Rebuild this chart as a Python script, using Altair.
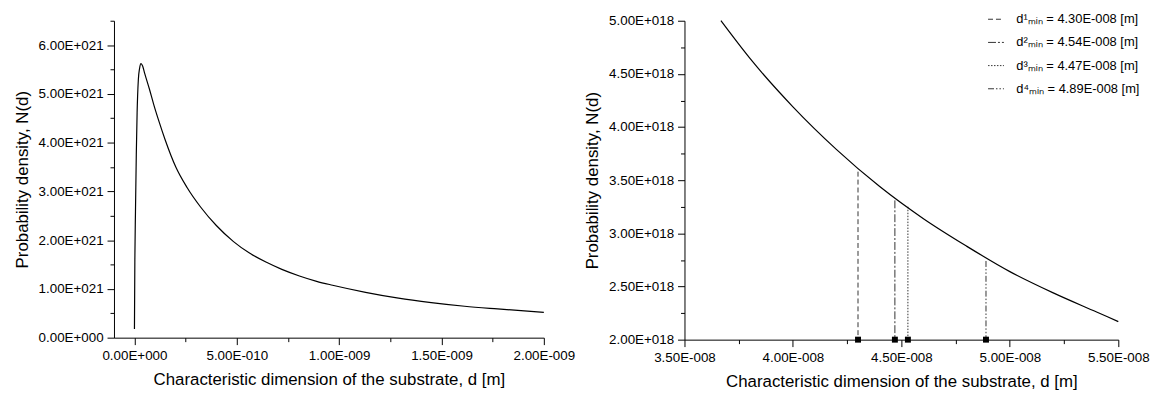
import altair as alt
import pandas as pd

FONT = "Liberation Sans"

# ---- left panel data (x in 1e-9 m, y in 1e21) ----
left_x = [0.000, 0.002, 0.005, 0.009, 0.013, 0.019, 0.025, 0.032, 0.040, 0.050,
          0.073, 0.095, 0.121, 0.149, 0.202, 0.257, 0.323, 0.400, 0.484, 0.560,
          0.645, 0.720, 0.806, 0.890, 0.968, 1.129, 1.290, 1.450, 1.613, 1.774, 2.000]
left_y = [0.18, 1.60, 2.58, 3.75, 4.61, 5.29, 5.52, 5.62, 5.57, 5.42,
          5.10, 4.77, 4.42, 4.07, 3.50, 3.08, 2.68, 2.30, 1.97, 1.74,
          1.545, 1.40, 1.265, 1.155, 1.075, 0.93, 0.81, 0.72, 0.645, 0.59, 0.52]

# ---- right panel data (x in 1e-8 m, y in 1e18) ----
right_x = [3.668, 3.80, 4.00, 4.20, 4.40, 4.60, 4.80, 5.00, 5.20, 5.40, 5.50]
right_y = [5.00, 4.65, 4.19, 3.79, 3.44, 3.14, 2.88, 2.64, 2.44, 2.26, 2.17]

dmin_labels = ["d¹ₘᵢₙ = 4.30E-008 [m]", "d²ₘᵢₙ = 4.54E-008 [m]",
               "d³ₘᵢₙ = 4.47E-008 [m]", "d⁴ₘᵢₙ = 4.89E-008 [m]"]
dmin_x = [4.30, 4.47, 4.53, 4.89]          # 1e-8 m, as drawn
dmin_top = [3.58, 3.31, 3.25, 2.74]        # 1e18
dmin_base = [2.0, 2.0, 2.0, 2.0]           # 1e18
dmin_dash = [[5, 3], [8, 2, 2, 2], [1.5, 1.5], [6, 2, 1.5, 2, 1.5, 2]]

# ---- tick values ----
left_xticks = [0, 2.5e-10, 5e-10, 7.5e-10, 1e-9, 1.25e-9, 1.5e-9, 1.75e-9, 2e-9]
left_yticks = [0, 0.5e21, 1e21, 1.5e21, 2e21, 2.5e21, 3e21, 3.5e21, 4e21, 4.5e21,
               5e21, 5.5e21, 6e21, 6.5e21]
right_xticks = [3.5e-8, 3.75e-8, 4e-8, 4.25e-8, 4.5e-8, 4.75e-8, 5e-8, 5.25e-8, 5.5e-8]
right_yticks = [2e18, 2.25e18, 2.5e18, 2.75e18, 3e18, 3.25e18, 3.5e18, 3.75e18,
                4e18, 4.25e18, 4.5e18, 4.75e18, 5e18]

df_left = pd.DataFrame({"x": [v * 1e-9 for v in left_x], "y": [v * 1e21 for v in left_y]})
df_right = pd.DataFrame({"x": [v * 1e-8 for v in right_x], "y": [v * 1e18 for v in right_y]})
df_rules = pd.DataFrame({
    "x": [v * 1e-8 for v in dmin_x],
    "y": [v * 1e18 for v in dmin_top],
    "y2": [v * 1e18 for v in dmin_base],
    "label": dmin_labels,
})
df_sq = pd.DataFrame({"x": [v * 1e-8 for v in dmin_x], "y": [v * 1e18 for v in dmin_base]})


def minor_test(step):
    return f"abs(datum.value/{step} - round(datum.value/{step})) > 1e-6"


def sci_label(step):
    v = "datum.value"
    e = f"floor(log(abs({v}))/LN10 + 1e-9)"
    return (f"{minor_test(step)} ? '' : "
            f"(abs({v}) < 1e-40 ? '0.00E+000' : "
            f"format({v}/pow(10, {e}), '.2f') + 'E' + ({e} < 0 ? '-' : '+') + "
            f"(abs({e}) < 10 ? '00' : '0') + abs({e}))")


def make_axis(title, values, step, title_pad):
    return alt.Axis(
        title=title, values=values, labelExpr=sci_label(step),
        tickSize={"condition": {"test": minor_test(step), "value": 4}, "value": 7},
        labelPadding=4, titlePadding=title_pad, labelFontSize=13.5, titleFontSize=17,
        labelFont=FONT, titleFont=FONT, titleFontWeight="normal",
        grid=False, domainColor="black", tickColor="black", labelColor="black",
        titleColor="black", labelFlush=False, labelOverlap=False, labelBound=False,
    )


XTITLE = "Characteristic dimension of the substrate, d [m]"
YTITLE = "Probability density, N(d)"

left = alt.Chart(df_left).mark_line(color="black", strokeWidth=1.2, interpolate="monotone").encode(
    x=alt.X("x:Q", scale=alt.Scale(domain=[-1e-10, 2e-9], nice=False, zero=False),
            axis=make_axis(XTITLE, left_xticks, 5e-10, 10)),
    y=alt.Y("y:Q", scale=alt.Scale(domain=[0, 6.5e21], nice=False, zero=False),
            axis=make_axis(YTITLE, left_yticks, 1e21, 7)),
).properties(width=434, height=320)

rx = alt.X("x:Q", scale=alt.Scale(domain=[3.5e-8, 5.5e-8], nice=False, zero=False),
           axis=make_axis(XTITLE, right_xticks, 5e-9, 10))
ry = alt.Y("y:Q", scale=alt.Scale(domain=[2e18, 5e18], nice=False, zero=False),
           axis=make_axis(YTITLE, right_yticks, 5e17, 7))

rules = alt.Chart(df_rules).mark_rule(strokeWidth=1, color="#333333").encode(
    x=rx, y=ry, y2="y2:Q",
    strokeDash=alt.StrokeDash(
        "label:N",
        scale=alt.Scale(domain=dmin_labels, range=dmin_dash),
        legend=alt.Legend(
            title=None, orient="none", legendX=882, legendY=-10,
            symbolType="stroke", symbolSize=256, symbolStrokeWidth=1,
            symbolStrokeColor="#333333", labelFontSize=13, labelFont=FONT,
            labelColor="black", rowPadding=7.4, labelOffset=12, labelLimit=400,
        ),
    ),
)
squares = alt.Chart(df_sq).mark_square(size=36, color="black", opacity=1).encode(x=rx, y=ry)
curve_r = alt.Chart(df_right).mark_line(color="black", strokeWidth=1.2, interpolate="monotone").encode(
    x=rx, y=ry)

right = alt.layer(rules, squares, curve_r).properties(width=438, height=322)

chart = alt.hconcat(left, right, spacing=8).properties(
    padding={"left": 5, "top": 1, "right": 0, "bottom": 0},
    background="white",
).configure_view(stroke=None).configure_axis(domainWidth=1, tickWidth=1)

chart.save("out.html", embed_options={"renderer": "svg", "actions": False})
